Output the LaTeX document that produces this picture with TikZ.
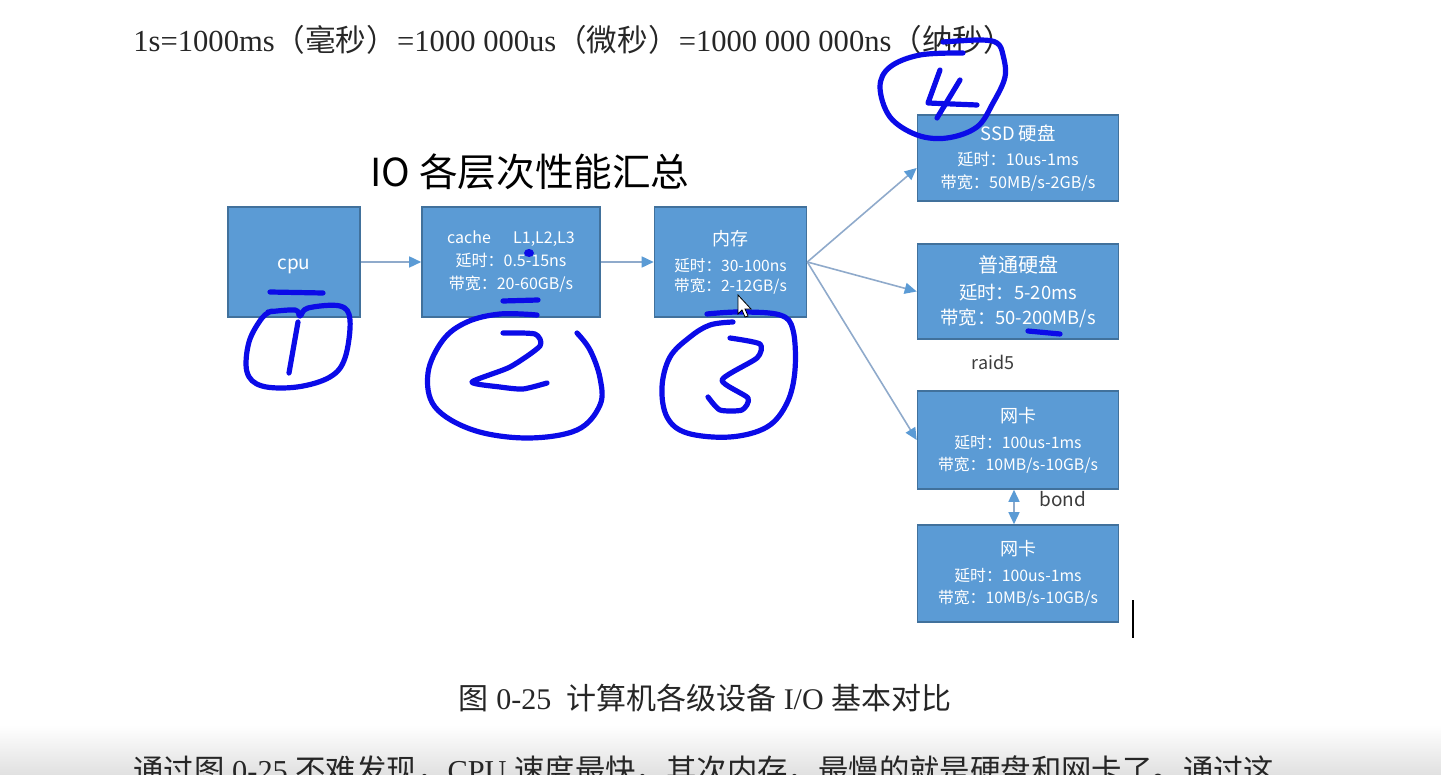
\documentclass[tikz,border=0pt]{standalone}
\usepackage{fontspec}
\setmainfont{Liberation Serif}
\newfontfamily\cjk{Noto Sans CJK SC}
\usetikzlibrary{arrows.meta,calc}
\definecolor{boxfill}{HTML}{5B9BD5}
\definecolor{boxline}{HTML}{41719C}
\definecolor{linkline}{HTML}{8FAACB}
\definecolor{ink}{HTML}{0B0BE8}
\definecolor{note}{HTML}{3C3C3C}

\tikzset{
  dev/.style={draw=boxline, line width=0.8pt, fill=boxfill, text=white, align=center, inner sep=0pt},
  link/.style={draw=linkline, line width=0.8pt, -{Triangle[length=6pt,width=5.5pt,color=boxfill]}},
  pen/.style={draw=ink, line width=2.6pt, line cap=round, line join=round},
}

\begin{document}
\begin{tikzpicture}[x=0.5pt,y=-0.5pt]
  \useasboundingbox (0,0) rectangle (1441,775);
  \clip (0,0) rectangle (1441,775);
  \shade[top color=white, bottom color=black!12] (0,725) rectangle (1441,775);

  \node[anchor=west, inner sep=0pt, text=black!85, font=\fontsize{15.3}{18}\selectfont] (units) at (133,40) {1s=1000ms{\cjk（毫秒）}=1000 000us{\cjk（微秒）}=1000 000 000ns{\cjk（纳秒）}};
  \node[font=\cjk\fontsize{19.3}{22}\selectfont] (title) at (530,172) {IO 各层次性能汇总};

  \node[dev, minimum width=66pt, minimum height=55pt, font=\cjk\fontsize{9.5}{11}\selectfont] (cpu) at (294,262) {\rule{0pt}{9.5pt}cpu};
  \node[dev, minimum width=89pt, minimum height=55pt, font=\cjk\fontsize{8}{11.5}\selectfont] (cache) at (511,262) {cache\quad\ \,L1,L2,L3\\延时：0.5-15ns\\带宽：20-60GB/s};
  \node[dev, minimum width=76pt, minimum height=55pt, font=\cjk\fontsize{7.8}{10}\selectfont] (mem) at (730.5,262) {{\fontsize{9}{10}\selectfont 内存}\\[3pt]延时：30-100ns\\带宽：2-12GB/s};
  \node[dev, minimum width=100.5pt, minimum height=43pt, font=\cjk\fontsize{8.1}{11.5}\selectfont] (ssd) at (1018,158) {{\fontsize{9.2}{11.5}\selectfont SSD 硬盘}\\[1pt]延时：10us-1ms\\带宽：50MB/s-2GB/s};
  \node[dev, minimum width=100.5pt, minimum height=47.5pt, font=\cjk\fontsize{9.2}{12.5}\selectfont] (hdd) at (1018,291.5) {{\fontsize{10}{12.5}\selectfont 普通硬盘}\\[1pt]延时：5-20ms\\带宽：50-200MB/s};
  \node[dev, minimum width=100.5pt, minimum height=49pt, font=\cjk\fontsize{7.9}{11}\selectfont] (nic) at (1018,440) {{\fontsize{9}{11}\selectfont 网卡}\\[2pt]延时：100us-1ms\\带宽：10MB/s-10GB/s};
  \node[dev, minimum width=100.5pt, minimum height=48.5pt, font=\cjk\fontsize{7.9}{11}\selectfont] (nic2) at (1018,573.5) {{\fontsize{9}{11}\selectfont 网卡}\\[2pt]延时：100us-1ms\\带宽：10MB/s-10GB/s};

  \node[text=note, font=\cjk\fontsize{9}{11}\selectfont] (raid) at (993,362) {raid5};
  \node[text=note, font=\cjk\fontsize{9.5}{11}\selectfont] (bond) at (1063,499) {bond};

  \draw[link] (cpu) -- (cache);
  \draw[link] (cache) -- (mem);
  \draw[link] (mem.east) -- ([yshift=-5pt]ssd.west);
  \draw[link] (mem.east) -- (hdd.west);
  \draw[link] (mem.east) -- (nic.west);
  \draw[link, {Triangle[length=6pt,width=5.5pt,color=boxfill]}-{Triangle[length=6pt,width=5.5pt,color=boxfill]}] ([xshift=-2pt]nic.south) -- ([xshift=-2pt]nic2.north);

  \node[anchor=center, text=black!85, font=\fontsize{15}{17}\selectfont] (caption) at (705,698) {{\cjk 图} 0-25\ \ {\cjk 计算机各级设备} I/O {\cjk 基本对比}};
  \node[anchor=base west, inner sep=0pt, text=black!85, font=\fontsize{15.2}{17}\selectfont] (body) at (133,781) {{\cjk 通过图} 0-25 {\cjk 不难发现，}CPU {\cjk 速度最快，其次内存，最慢的就是硬盘和网卡了。通过这}};

  % pen marks
  \draw[pen] (270,292) -- (323,293);
  \draw[pen] plot[smooth, tension=0.6] coordinates {(268,312) (295,310) (300,316) (308,308) (340,306) (350,320) (345,358) (330,377) (297,387) (262,386) (247,372) (249,342) (262,318) (272,311)};
  \draw[pen] (298,322) -- (289,373);
  \fill[ink] (529,253) ellipse (5 and 4);
  \draw[pen] (503,301) -- (538,300);
  \draw[pen] plot[smooth, tension=0.6] coordinates {(537,315) (500,314) (467,322) (443,340) (428,373) (435,407) (473,430) (527,438) (577,430) (600,405) (600,378) (590,350) (577,333)};
  \draw[pen] plot[smooth, tension=0.4] coordinates {(503,333) (535,334) (540,346) (510,367) (472,382) (500,387) (523,389) (547,383)};
  \draw[pen] plot[smooth, tension=0.6] coordinates {(707,314) (740,312) (780,315) (793,330) (795,370) (787,403) (767,427) (730,437) (687,433) (667,417) (662,387) (670,357) (690,337) (710,325) (733,322)};
  \draw[pen] plot[smooth, tension=0.4] coordinates {(730,338) (760,344) (757,358) (722,380) (748,398) (742,410) (720,410) (708,397)};
  \draw[pen] plot[smooth, tension=0.6] coordinates {(943,42) (980,40) (997,43) (1003,55) (1005,77) (993,103) (977,127) (947,138) (917,135) (890,117) (880,87) (890,67) (920,55) (963,53)};
  \draw[pen] (940,70) -- (928,103) -- (977,105);
  \draw[pen] (960,80) -- (937,118);
  \draw[pen] (1028,331) -- (1060,334);

  % pointers
  \draw[fill=white, line width=0.4pt] (738,295) -- (738,314) -- (742,310) -- (745,317) -- (748,316) -- (745,309) -- (751,309) -- cycle;
  \draw[line width=1pt] (1133,600) -- (1133,638);
\end{tikzpicture}
\end{document}
